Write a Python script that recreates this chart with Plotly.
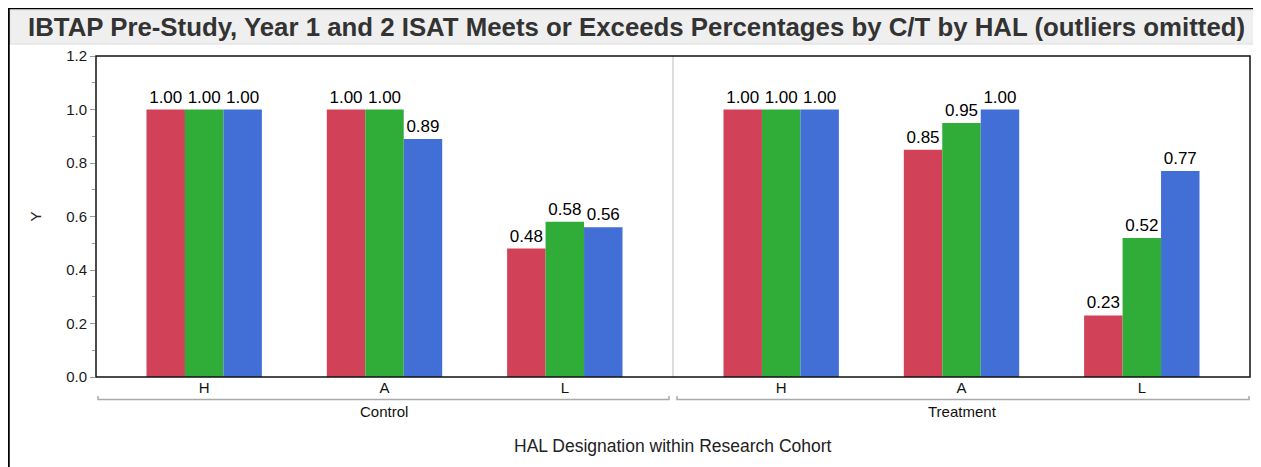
import plotly.graph_objects as go
from plotly.subplots import make_subplots

# ---- data ----
cohorts = ["Control", "Treatment"]
hal = ["H", "A", "L"]
series_names = ["Pre-Study", "Year 1", "Year 2"]
control_pre = [1.00, 1.00, 0.48]
control_y1 = [1.00, 1.00, 0.58]
control_y2 = [1.00, 0.89, 0.56]
treatment_pre = [1.00, 0.85, 0.23]
treatment_y1 = [1.00, 0.95, 0.52]
treatment_y2 = [1.00, 1.00, 0.77]
y_ticks = [0.0, 0.2, 0.4, 0.6, 0.8, 1.0, 1.2]

colors = ["#D14158", "#30AD38", "#416FD6"]

OFF = 8  # page body margin
W, H = 1253, 459
L, R, T, B = 88, 11, 48, 90
pw, ph = W - L - R, H - T - B

def px(x):
    return (x - OFF - L) / pw

def py(y):
    return 1 - (y - OFF - T) / ph

fig = make_subplots(rows=1, cols=2, shared_yaxes=True, horizontal_spacing=0)

data = {
    "Control": [control_pre, control_y1, control_y2],
    "Treatment": [treatment_pre, treatment_y1, treatment_y2],
}
for ci, cohort in enumerate(cohorts):
    for si, name in enumerate(series_names):
        fig.add_trace(
            go.Bar(
                x=hal,
                y=data[cohort][si],
                name=name,
                marker=dict(color=colors[si], line=dict(width=0)),
                texttemplate="%{y:.2f}",
                textposition="outside",
                constraintext="none",
                cliponaxis=False,
                textfont=dict(size=17, color="#000000", family="Liberation Sans, Arial"),
                showlegend=False,
            ),
            row=1,
            col=ci + 1,
        )

fig.update_layout(
    width=W,
    height=H,
    margin=dict(l=L, r=R, t=T, b=B),
    paper_bgcolor="white",
    plot_bgcolor="white",
    barmode="group",
    bargap=0.36,
    bargroupgap=0,
    font=dict(family="Liberation Sans, Arial", color="#222222", size=14),
)

for ax in ["xaxis", "xaxis2"]:
    fig.layout[ax].update(
        range=[-0.6, 2.6],
        ticks="",
        showline=False,
        showgrid=False,
        zeroline=False,
        tickfont=dict(size=15, color="#111111"),
        fixedrange=True,
    )

fig.update_yaxes(
    range=[0, 1.2],
    tickvals=y_ticks,
    tickformat=".1f",
    ticks="outside",
    ticklen=5,
    tickcolor="#999999",
    tickfont=dict(size=15, color="#1A1A1A"),
    showgrid=False,
    zeroline=False,
    showline=False,
    minor=dict(dtick=0.1, ticks="outside", ticklen=3, tickcolor="#999999", showgrid=False),
    row=1, col=1,
)
fig.update_yaxes(
    title=dict(text="Y", font=dict(size=15, color="#222222"), standoff=20),
    row=1, col=1,
)
fig.update_yaxes(range=[0, 1.2], showticklabels=False, ticks="", showgrid=False,
                 zeroline=False, showline=False, row=1, col=2)

shapes = []
# outer frame (figure edge)
shapes.append(dict(type="line", xref="paper", yref="paper", x0=px(8), x1=px(1261), y0=py(8.5), y1=py(8.5),
                   line=dict(color="#000000", width=1.5)))
shapes.append(dict(type="line", xref="paper", yref="paper", x0=px(8.5), x1=px(8.5), y0=py(8), y1=py(467),
                   line=dict(color="#000000", width=2.5)))
# title box
shapes.append(dict(type="rect", xref="paper", yref="paper", x0=px(10), x1=px(1257), y0=py(10), y1=py(44),
                   fillcolor="#EFEFEF", line=dict(color="#DCDCDC", width=1), layer="below"))
# cohort separator
shapes.append(dict(type="line", xref="paper", yref="paper", x0=0.5, x1=0.5, y0=0, y1=1,
                   line=dict(color="#D0D0D0", width=1.5), layer="below"))
# plot frame
shapes.append(dict(type="rect", xref="paper", yref="paper", x0=0, x1=1, y0=0, y1=1,
                   line=dict(color="#111111", width=1.5), layer="above"))
# group brackets
for x0, x1 in [(98, 669), (677, 1249)]:
    shapes.append(dict(type="path", xref="paper", yref="paper",
                       path=f"M {px(x0)} {py(396)} L {px(x0)} {py(399.5)} L {px(x1)} {py(399.5)} L {px(x1)} {py(396)}",
                       line=dict(color="#AAAAAA", width=1.5)))
fig.update_layout(shapes=shapes)

annotations = [
    dict(text="<b>IBTAP Pre-Study, Year 1 and 2 ISAT Meets or Exceeds Percentages by C/T by HAL (outliers omitted)</b>",
         xref="paper", yref="paper", x=px(636), y=py(27), xanchor="center", yanchor="middle",
         showarrow=False, font=dict(size=25.8, color="#333333", family="Liberation Sans, Arial")),
    dict(text="Control", xref="paper", yref="paper", x=px(384), y=py(411), xanchor="center", yanchor="middle",
         showarrow=False, font=dict(size=15, color="#111111")),
    dict(text="Treatment", xref="paper", yref="paper", x=px(962), y=py(411), xanchor="center", yanchor="middle",
         showarrow=False, font=dict(size=15, color="#111111")),
    dict(text="HAL Designation within Research Cohort", xref="paper", yref="paper", x=px(673), y=py(446),
         xanchor="center", yanchor="middle", showarrow=False, font=dict(size=17.5, color="#222222")),
]
fig.update_layout(annotations=annotations)

fig.write_html("out.html")
